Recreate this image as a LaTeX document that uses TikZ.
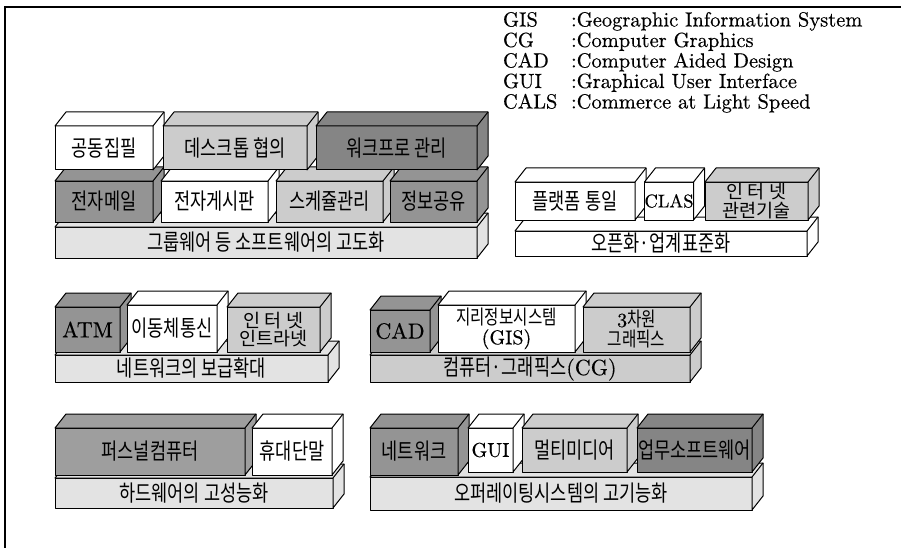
\documentclass[tikz,border=0pt]{standalone}
\usepackage{fontspec}
\newfontfamily\kr[FakeStretch=0.78]{Noto Sans CJK KR}
\newfontfamily\krw{Noto Sans CJK KR}
\newfontfamily\latf[FakeBold=0.4]{lmroman10-regular.otf}
\definecolor{wh}{gray}{1}
\definecolor{lt}{gray}{0.89}
\definecolor{md}{gray}{0.8}
\definecolor{pc}{gray}{0.62}
\definecolor{dk}{gray}{0.58}
\definecolor{dkk}{gray}{0.52}
\newcommand\dx{11}
\newcommand\dy{14}
\tikzset{
  face/.style={draw, line width=1pt, line join=round, inner sep=0pt, outer sep=0pt, align=center,
     font=\kr\fontsize{22.5}{22.5}\selectfont},
  two/.style={font=\kr\fontsize{20}{20}\selectfont},
  wide/.style={font=\krw\fontsize{18.5}{18.5}\selectfont},
  edge/.style={line width=1pt, line join=round},
  leg/.style={inner sep=0pt, outer sep=0pt, font=\latf\fontsize{20.5}{20.5}\selectfont},
  frameline/.style={line width=1.3pt}
}
\newcommand\blk[8][]{%
  \node[face, fill=#7, minimum width={#4-#2}, minimum height={#5-#3}, #1] (#6) at ({(#2+#4)/2},{(#3+#5)/2}) {#8};
  \path[draw=black, fill=#7, edge] (#6.north west) -- ([shift={(\dx,-\dy)}]#6.north west)
     -- ([shift={(\dx,-\dy)}]#6.north east) -- ([shift={(\dx,-\dy)}]#6.south east)
     -- (#6.south east) -- (#6.north east) -- cycle;
  \draw[edge] (#6.north east) -- ([shift={(\dx,-\dy)}]#6.north east);
}
\newcommand\lat{\latf\fontsize{22}{22}\selectfont}
\newcommand\latm{\latf\fontsize{20}{20}\selectfont}
\newcommand\latt{\latf\fontsize{18.5}{18.5}\selectfont}
\begin{document}
\begin{tikzpicture}[x=1pt,y=-1pt]
\useasboundingbox (0,0) rectangle (901,548);
\coordinate (fb) at (5,548);
\coordinate (fc) at (5,7);
\coordinate (fr) at (901,7);
\draw[frameline] (fb) -- (fc) -- (fr);

% legend
\node[leg, anchor=base west] (a1) at (503,26.5) {GIS};
\node[leg, anchor=base west] (d1) at (571,26.5) {:Geographic Information System};
\node[leg, anchor=base west] (a2) at (503,47) {CG};
\node[leg, anchor=base west] (d2) at (571,47) {:Computer Graphics};
\node[leg, anchor=base west] (a3) at (503,67.5) {CAD};
\node[leg, anchor=base west] (d3) at (571,67.5) {:Computer Aided Design};
\node[leg, anchor=base west] (a4) at (503,88) {GUI};
\node[leg, anchor=base west] (d4) at (571,88) {:Graphical User Interface};
\node[leg, anchor=base west] (a5) at (503,108.5) {CALS};
\node[leg, anchor=base west] (d5) at (571,108.5) {:Commerce at Light Speed};

% group 1
\blk{55}{227}{477}{258}{b1}{lt}{그룹웨어 등 소프트웨어의 고도화}
\blk{55}{181}{153}{222}{g1e}{dk}{전자메일}
\blk{161}{181}{268}{222}{g1f}{wh}{전자게시판}
\blk{276}{181}{383}{222}{g1g}{md}{스케쥴관리}
\blk{390}{181}{477}{222}{g1h}{dk}{정보공유}
\blk{55}{126}{153}{170}{g1a}{wh}{공동집필}
\blk{163}{126}{307}{170}{g1b}{md}{데스크톱 협의}
\blk{316}{126}{477}{170}{g1c}{dkk}{워크프로 관리}

% group 2
\blk{515}{231}{807}{256}{b2}{wh}{오픈화·업계표준화}
\blk{515}{182}{635}{220}{g2a}{wh}{플랫폼 통일}
\blk{645}{182}{693}{220}{g2b}{wh}{\latt CLAS}
\blk[wide]{705}{182}{808}{220}{g2c}{md}{인 터 넷\\관련기술}

% group 3
\blk{55}{355}{328}{382}{b3}{lt}{네트워크의 보급확대}
\blk{55}{307}{120}{352}{g3a}{dk}{\lat ATM}
\blk{127}{305}{217}{352}{g3b}{wh}{이동체통신}
\blk[wide]{227}{307}{320}{352}{g3c}{md}{인 터 넷\\인트라넷}

% group 4
\blk{370}{355}{690}{382}{b4}{md}{컴퓨터·그래픽스{\lat (CG)}}
\blk{370}{310}{430}{352}{g4a}{dk}{\lat CAD}
\blk[two]{438}{305}{575}{352}{g4b}{wh}{지리정보시스템\\{\latm (GIS)}}
\blk[two]{583}{307}{690}{352}{g4c}{md}{{\latm 3}차원\\그래픽스}

% group 5
\blk{55}{478}{333}{508}{b5}{lt}{하드웨어의 고성능화}
\blk{55}{428}{245}{475}{g5a}{pc}{퍼스널컴퓨터}
\blk{252}{428}{332}{475}{g5b}{wh}{휴대단말}

% group 6
\blk{370}{477}{752}{510}{b6}{lt}{오퍼레이팅시스템의 고기능화}
\blk{370}{428}{458}{475}{g6a}{dk}{네트워크}
\blk{468}{428}{513}{472}{g6b}{wh}{\latm GUI}
\blk{522}{428}{627}{472}{g6c}{md}{멀티미디어}
\blk{637}{428}{752}{472}{g6d}{dkk}{업무소프트웨어}
\end{tikzpicture}
\end{document}
